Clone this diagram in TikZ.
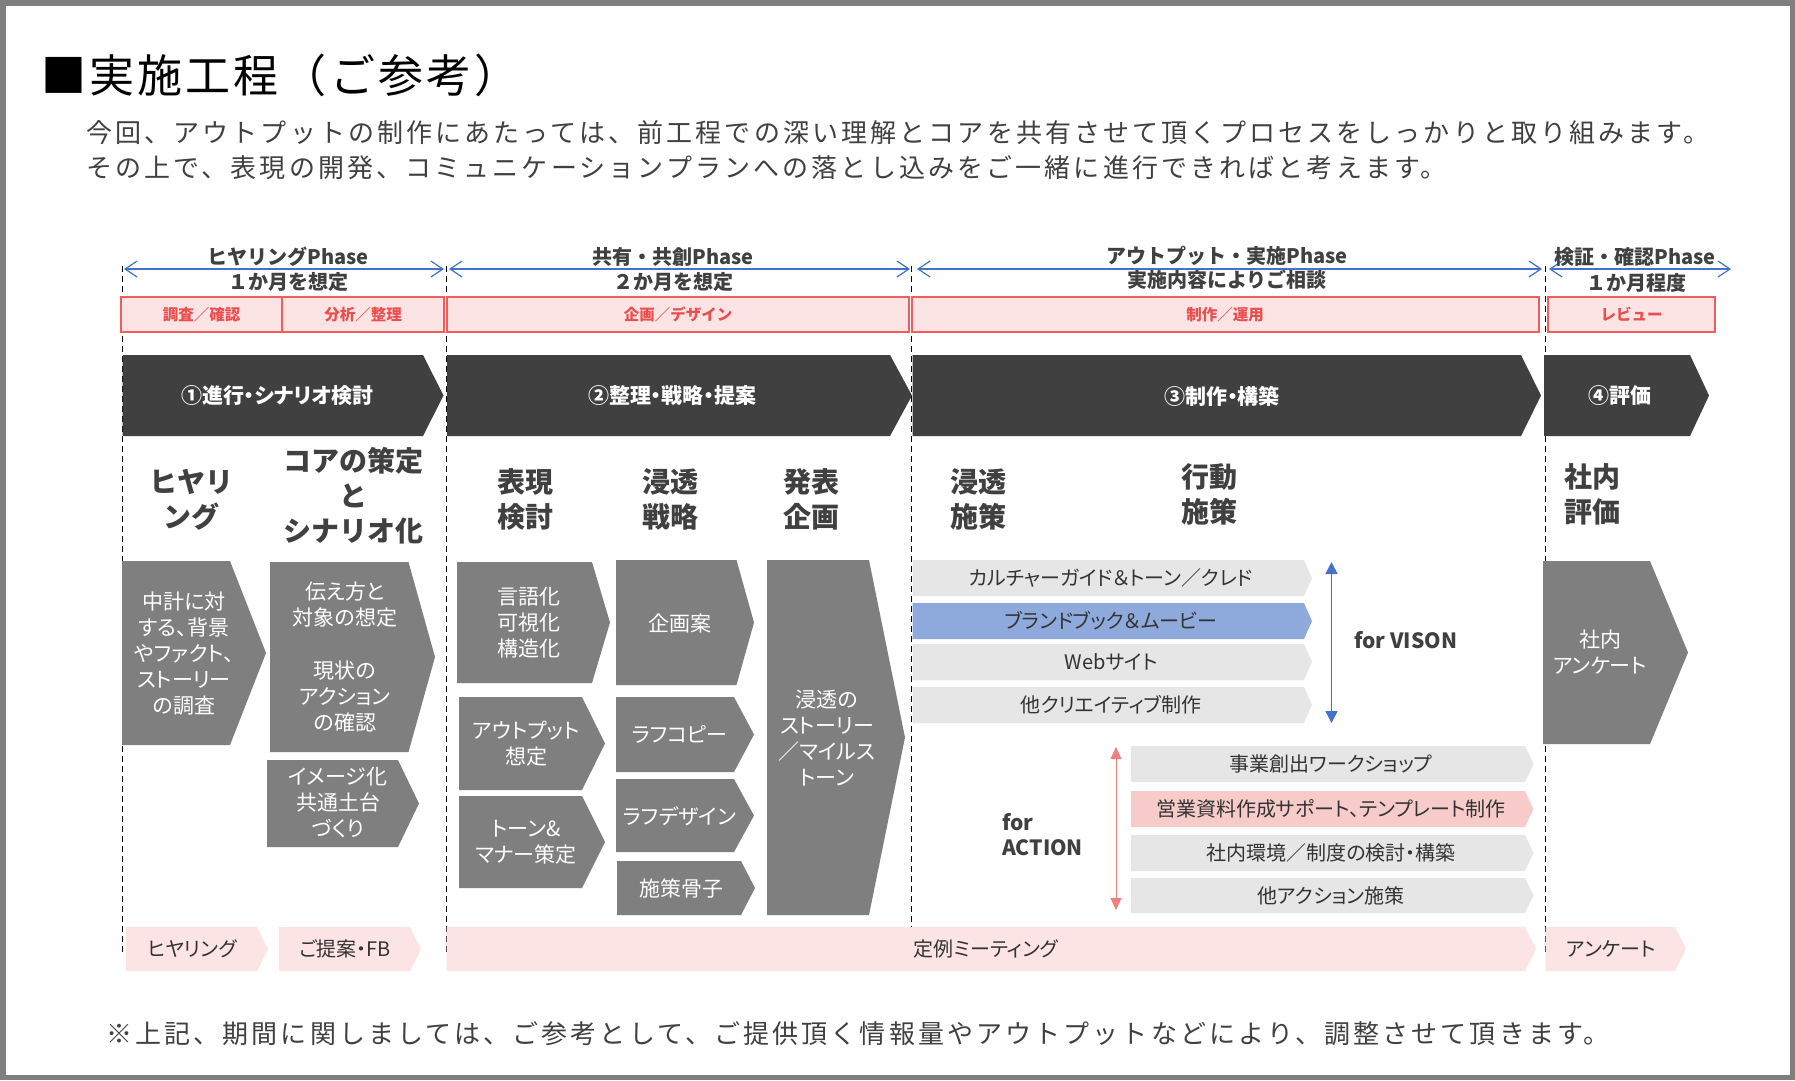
\documentclass[tikz,border=0pt]{standalone}
\usepackage{fontspec}
\setmainfont{Noto Sans CJK JP}
\newfontfamily\jpp{Noto Sans CJK JP}[CharacterWidth=AlternateProportional]
\newfontfamily\jpsp{Noto Sans CJK JP}[LetterSpace=12]
\newfontfamily\jptitle{Noto Sans CJK JP}[LetterSpace=7]
\usetikzlibrary{arrows.meta}
\definecolor{framegray}{HTML}{7F7F7F}
\definecolor{darkchev}{HTML}{404040}
\definecolor{boxgray}{HTML}{7F7F7F}
\definecolor{barlight}{HTML}{E7E6E6}
\definecolor{barblue}{HTML}{8EA9DB}
\definecolor{barpink}{HTML}{F8CBCB}
\definecolor{pinkbg}{RGB}{252,228,228}
\definecolor{redline}{RGB}{242,92,92}
\definecolor{redtxt}{RGB}{235,78,78}
\definecolor{arrblue}{HTML}{4472C4}
\definecolor{arrred}{RGB}{240,128,128}
\definecolor{txtdark}{HTML}{404040}
\definecolor{bartxt}{HTML}{333333}
\newcommand\fsz[2]{\fontsize{#1}{#2}\selectfont}
% fill, x1, y1, xbody, xtip, y2
\newcommand\chev[6]{\fill[#1] (#2,#3) -- (#4,#3) -- (#5,{(#3+#6)/2}) -- (#4,#6) -- (#2,#6) -- cycle;}
\tikzset{
  headtxt/.style={font=\bfseries\fsz{28}{35}, text=txtdark, align=center, inner sep=0pt},
  wtxt/.style={font=\jpp\fsz{21}{26}, text=white, align=center, inner sep=0pt},
  bartext/.style={font=\jpp\fsz{20}{24}, text=bartxt, inner sep=0pt},
  phtxt/.style={font=\bfseries\fsz{20}{24}, text=txtdark, inner sep=0pt},
  rtxt/.style={font=\bfseries\fsz{15.5}{18}, text=redtxt, inner sep=0pt},
  ctxt/.style={font=\jpp\bfseries\fsz{21}{24}, text=white, inner sep=0pt},
  subtxt/.style={font=\jpsp\fsz{26}{35}, text=txtdark, inner sep=0pt, anchor=west},
  hdbox/.style={draw=redline, fill=pinkbg, line width=2pt},
  vline/.style={dash pattern=on 6pt off 4pt, line width=1pt, draw=black},
  phasearr/.style={draw=arrblue, line width=1.2pt, {Straight Barb[length=12pt,width=16pt]}-{Straight Barb[length=12pt,width=16pt]}},
  forlbl/.style={font=\jpp\bfseries\fsz{21}{25}, text=txtdark, inner sep=0pt, align=left, anchor=west},
}
\begin{document}
\begin{tikzpicture}[x=1pt,y=-1pt]
\useasboundingbox (0,0) rectangle (1795,1080);
\fill[framegray] (0,0) rectangle (1795,1080);
\fill[white] (6,6) rectangle (1790,1075);

% title and intro
\node[font=\jptitle\fsz{45}{50}, text=black, inner sep=0pt, anchor=west] (title) at (41,75) {■実施工程（ご参考）};
\node[subtxt] (sub1) at (86,133) {今回、アウトプットの制作にあたっては、前工程での深い理解とコアを共有させて頂くプロセスをしっかりと取り組みます。};
\node[subtxt] (sub2) at (86,168) {その上で、表現の開発、コミュニケーションプランへの落とし込みをご一緒に進行できればと考えます。};
\node[subtxt] (foot) at (106,1034) {※上記、期間に関しましては、ご参考として、ご提供頂く情報量やアウトプットなどにより、調整させて頂きます。};

% dashed phase separators
\coordinate (d1t) at (122.5,266); \coordinate (d1b) at (122.5,955);
\coordinate (d2t) at (446,266);   \coordinate (d2b) at (446,955);
\coordinate (d3t) at (911.5,266); \coordinate (d3b) at (911.5,955);
\coordinate (d4t) at (1545,266);  \coordinate (d4b) at (1545,955);
\draw[vline] (d1t) -- (d1b);
\draw[vline] (d2t) -- (d2b);
\draw[vline] (d3t) -- (d3b);
\draw[vline] (d4t) -- (d4b);

% phase arrows
\coordinate (p1a) at (124,269);  \coordinate (p1b) at (444,269);
\coordinate (p2a) at (449,269);  \coordinate (p2b) at (910,269);
\coordinate (p3a) at (917,269);  \coordinate (p3b) at (1542,269);
\coordinate (p4a) at (1549,269); \coordinate (p4b) at (1731,269);
\draw[phasearr] (p1a) -- (p1b);
\draw[phasearr] (p2a) -- (p2b);
\draw[phasearr] (p3a) -- (p3b);
\draw[phasearr] (p4a) -- (p4b);
\node[phtxt, fill=white, inner xsep=1pt] (ph1) at (288,257) {ヒヤリングPhase};
\node[phtxt] (ph1b) at (288,282) {１か月を想定};
\node[phtxt, fill=white, inner xsep=1pt] (ph2) at (673,257) {共有・共創Phase};
\node[phtxt] (ph2b) at (673,282) {２か月を想定};
\node[phtxt, fill=white, inner xsep=1pt] (ph3) at (1227,256) {アウトプット・実施Phase};
\node[phtxt] (ph3b) at (1227,280) {実施内容によりご相談};
\node[phtxt] (ph4) at (1635,257) {検証・確認Phase};
\node[phtxt] (ph4b) at (1636,283) {１か月程度};

% pink header row
\draw[hdbox] (121,297) rectangle (282,332);
\draw[hdbox] (282,297) rectangle (444,332);
\draw[hdbox] (447,297) rectangle (909,332);
\draw[hdbox] (912,297) rectangle (1539,332);
\draw[hdbox] (1548,297) rectangle (1715,332);
\node[rtxt] (r1) at (201.5,314.5) {調査／確認};
\node[rtxt] (r2) at (363,314.5) {分析／整理};
\node[rtxt] (r3) at (678,314.5) {企画／デザイン};
\node[rtxt] (r4) at (1225,314.5) {制作／運用};
\node[rtxt] (r5) at (1631.5,314.5) {レビュー};

% dark step chevrons
\chev{darkchev}{122.5}{355}{423}{443.5}{436}
\chev{darkchev}{447}{355}{890}{912}{436}
\chev{darkchev}{912.5}{355}{1521}{1541}{436}
\chev{darkchev}{1544}{355}{1690}{1709}{436}
\node[ctxt] (s1) at (277.5,396) {①進行・シナリオ検討};
\node[ctxt] (s2) at (672,396) {②整理・戦略・提案};
\node[ctxt] (s3) at (1222,396) {③制作・構築};
\node[ctxt] (s4) at (1620,396) {④評価};

% column headings
\node[headtxt] (h1) at (191,499.5) {ヒヤリ\\ング};
\node[headtxt] (h2) at (353,496) {コアの策定\\と\\シナリオ化};
\node[headtxt] (h3) at (525,499.5) {表現\\検討};
\node[headtxt] (h4) at (670,499.5) {浸透\\戦略};
\node[headtxt] (h5) at (811,499.5) {発表\\企画};
\node[headtxt] (h6) at (978,499.5) {浸透\\施策};
\node[headtxt] (h7) at (1209,494) {行動\\施策};
\node[headtxt] (h8) at (1592,494) {社内\\評価};

% gray chevron boxes
\chev{boxgray}{122}{561}{230}{266}{745}
\chev{boxgray}{270}{562}{408.5}{435}{752}
\chev{boxgray}{267}{760}{398}{419}{847}
\chev{boxgray}{457}{562}{592}{610}{683}
\chev{boxgray}{459}{697}{582}{605}{790}
\chev{boxgray}{459}{796}{582}{605}{888}
\chev{boxgray}{616}{560}{736.5}{754}{685}
\chev{boxgray}{616}{697}{734}{754}{772}
\chev{boxgray}{616}{779}{734}{754}{852}
\chev{boxgray}{617}{861}{741}{755}{915}
\chev{boxgray}{767}{560}{869}{905}{915}
\chev{boxgray}{1543}{561}{1650}{1688}{744}
\node[wtxt] (bA) at (184,654) {中計に対\\する、背景\\やファクト、\\ストーリー\\の調査};
\node[wtxt] (bB1) at (345,604.5) {伝え方と\\対象の想定};
\node[wtxt] (bB2) at (345,696) {現状の\\アクション\\の確認};
\node[wtxt] (bC) at (338,803) {イメージ化\\共通土台\\づくり};
\node[wtxt] (bD) at (529,622.5) {言語化\\可視化\\構造化};
\node[wtxt] (bE) at (526,743.5) {アウトプット\\想定};
\node[wtxt] (bF) at (526,842.5) {トーン\&\\マナー策定};
\node[wtxt] (bG) at (679.5,623) {企画案};
\node[wtxt] (bH) at (679.5,734) {ラフコピー};
\node[wtxt] (bI) at (679.5,816) {ラフデザイン};
\node[wtxt] (bJ) at (681,888) {施策骨子};
\node[wtxt] (bK) at (827,738) {浸透の\\ストーリー\\／マイルス\\トーン};
\node[wtxt] (bL) at (1600,652.5) {社内\\アンケート};

% for VISON bars
\chev{barlight}{912.5}{560}{1304}{1312}{596}
\chev{barblue}{912.5}{603}{1304}{1312}{639}
\chev{barlight}{912.5}{644}{1304}{1312}{680}
\chev{barlight}{912.5}{687}{1304}{1312}{723}
\node[bartext] (v1) at (1111,578) {カルチャーガイド＆トーン／クレド};
\node[bartext] (v2) at (1111,621) {ブランドブック＆ムービー};
\node[bartext] (v3) at (1111,662) {Webサイト};
\node[bartext] (v4) at (1111,705) {他クリエイティブ制作};
\coordinate (va) at (1331.5,562); \coordinate (vb) at (1331.5,723);
\draw[arrblue, line width=1.5pt, {Triangle[length=12pt,width=12pt]}-{Triangle[length=12pt,width=12pt]}] (va) -- (vb);
\node[forlbl] (forv) at (1354,640) {for VISON};

% for ACTION bars
\chev{barlight}{1131}{746}{1525}{1533.5}{782}
\chev{barpink}{1131}{791}{1525}{1533.5}{827}
\chev{barlight}{1131}{835}{1525}{1533.5}{871}
\chev{barlight}{1131}{878}{1525}{1533.5}{913}
\node[bartext] (a1) at (1331,764) {事業創出ワークショップ};
\node[bartext] (a2) at (1331,809) {営業資料作成サポート、テンプレート制作};
\node[bartext] (a3) at (1331,853) {社内環境／制度の検討・構築};
\node[bartext] (a4) at (1331,895.5) {他アクション施策};
\coordinate (aa) at (1116,747); \coordinate (ab) at (1116,910);
\draw[arrred, line width=1pt, {Triangle[length=12pt,width=11pt]}-{Triangle[length=12pt,width=11pt]}] (aa) -- (ab);
\node[forlbl] (fora) at (1002,835) {for\\ACTION};

% bottom pink row
\chev{pinkbg}{126}{927}{257}{268}{971}
\chev{pinkbg}{279}{927}{410}{421}{971}
\chev{pinkbg}{446.5}{927}{1525}{1536}{971}
\chev{pinkbg}{1545.5}{927}{1675}{1686}{971}
\node[bartext] (m1) at (192,949) {ヒヤリング};
\node[bartext] (m2) at (345,949) {ご提案・FB};
\node[bartext] (m3) at (986,949) {定例ミーティング};
\node[bartext] (m4) at (1611,949) {アンケート};
\end{tikzpicture}
\end{document}
